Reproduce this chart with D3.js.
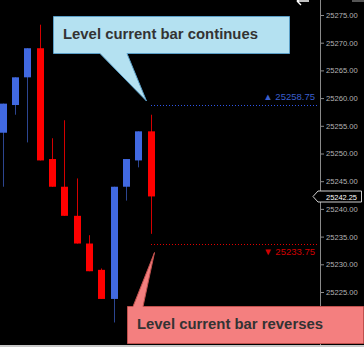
<!DOCTYPE html>
<html>
<head>
<meta charset="utf-8">
<script src="https://cdn.jsdelivr.net/npm/d3@7"></script>
<style>
  html, body { margin: 0; padding: 0; background: #000; }
  svg { display: block; }
</style>
</head>
<body>
<div id="chart"></div>
<script>
// candle data (oldest -> newest)
let opens  = [25253.75, 25258.75, 25263.75, 25269.0, 25249.0, 25244.0, 25238.75, 25233.75, 25229.0, 25223.75, 25244.0, 25248.75, 25254.0]
let highs  = [25259.0, 25263.75, 25269.0, 25273.25, 25252.75, 25256.0, 25245.5, 25235.25, 25229.25, 25244.0, 25249.0, 25254.0, 25257.0]
let lows   = [25244.0, 25257.0, 25252.0, 25248.75, 25244.0, 25238.75, 25233.75, 25228.75, 25223.75, 25219.5, 25241.5, 25247.5, 25235.5]
let closes = [25259.0, 25263.75, 25269.0, 25248.75, 25244.0, 25238.75, 25233.75, 25228.75, 25223.75, 25244.0, 25249.0, 25254.0, 25242.25]

let yTicks = [25225, 25230, 25235, 25240, 25245, 25250, 25255, 25260, 25265, 25270, 25275]
let levelUp = 25258.75
let levelDown = 25233.75
let lastPrice = 25242.25
let labelUp = 'Level current bar continues'
let labelDown = 'Level current bar reverses'

let width = 364, height = 347
let svg = d3.select('#chart').append('svg')
    .attr('width', width)
    .attr('height', height)

svg.append('rect').attr('width', width).attr('height', height).attr('fill', '#000')

// scales
let y = d3.scaleLinear().domain([25225, 25275]).range([292, 15])
let x = d3.scaleLinear().domain([0, opens.length - 1]).range([2.5, 150.5])
let axisX = 320
let bodyW = 7
let font = 'Liberation Sans, Arial, sans-serif'

// candles
let candles = svg.append('g').selectAll('g')
    .data(opens.map((o, i) => ({i: i, o: o, h: highs[i], l: lows[i], c: closes[i]})))
    .enter().append('g')

candles.append('line')
    .attr('x1', d => Math.round(x(d.i)) + 0.5)
    .attr('x2', d => Math.round(x(d.i)) + 0.5)
    .attr('y1', d => y(d.h))
    .attr('y2', d => y(d.l))
    .attr('stroke', d => d.c >= d.o ? '#2c4590' : '#d40000')
    .attr('stroke-width', 1)

candles.append('rect')
    .attr('x', d => Math.round(x(d.i)) - 3)
    .attr('width', bodyW)
    .attr('y', d => y(Math.max(d.o, d.c)))
    .attr('height', d => Math.max(1, y(Math.min(d.o, d.c)) - y(Math.max(d.o, d.c))))
    .attr('fill', d => d.c >= d.o ? '#4169e1' : '#ff0000')

// level lines (dotted)
let lineStart = Math.round(x(opens.length - 1))
svg.append('line')
    .attr('x1', lineStart).attr('x2', axisX - 2)
    .attr('y1', Math.round(y(levelUp)) + 0.5).attr('y2', Math.round(y(levelUp)) + 0.5)
    .attr('stroke', '#2f55e8').attr('stroke-dasharray', '1,2')
    .style('shape-rendering', 'crispEdges')
svg.append('line')
    .attr('x1', lineStart).attr('x2', axisX - 2)
    .attr('y1', Math.round(y(levelDown)) + 0.5).attr('y2', Math.round(y(levelDown)) + 0.5)
    .attr('stroke', '#e00000').attr('stroke-dasharray', '1,2')
    .style('shape-rendering', 'crispEdges')

svg.append('text')
    .attr('x', 315).attr('y', y(levelUp) - 5)
    .attr('text-anchor', 'end')
    .style('font-family', font)
    .style('font-size', '9.5px')
    .attr('fill', '#3a5fcd')
    .text('\u25B2 ' + d3.format('.2f')(levelUp))
svg.append('text')
    .attr('x', 315).attr('y', y(levelDown) + 11)
    .attr('text-anchor', 'end')
    .style('font-family', font)
    .style('font-size', '9.5px')
    .attr('fill', '#d00000')
    .text('\u25BC ' + d3.format('.2f')(levelDown))

// price axis
let axis = d3.axisRight(y).tickValues(yTicks).tickSize(4).tickFormat(d3.format('.2f'))
let axisG = svg.append('g').attr('transform', `translate(${axisX},0)`).call(axis)
axisG.select('.domain').remove()
axisG.selectAll('line').attr('stroke', '#8a8a8a')
axisG.selectAll('text')
    .attr('x', 6)
    .attr('fill', '#b4b4b4')
    .style('font-family', font)
    .style('font-size', '7.6px')
svg.append('line')
    .attr('x1', axisX + 0.5).attr('x2', axisX + 0.5)
    .attr('y1', 0).attr('y2', height)
    .attr('stroke', '#8a8a8a')

// last price tag
let py = Math.round(y(lastPrice)) + 0.5
svg.append('path')
    .attr('d', `M${313},${py} L${318},${py - 5.5} L${361.5},${py - 5.5} L${361.5},${py + 5.5} L${318},${py + 5.5} Z`)
    .attr('fill', '#000')
    .attr('stroke', '#d0d0d0')
svg.append('text')
    .attr('x', 326).attr('y', py + 3)
    .attr('fill', '#fff')
    .style('font-family', font)
    .style('font-size', '7.6px')
    .attr('textLength', 31).attr('lengthAdjust', 'spacingAndGlyphs')
    .text(d3.format('.2f')(lastPrice))

// top-right widgets: scroll arrow (cut by the top edge) and a small button
svg.append('path')
    .attr('d', 'M297,1 L309,1 M297,1 L301,-3 M297,1 L301,5')
    .attr('stroke', '#fff').attr('stroke-width', 1.4).attr('fill', 'none')
svg.append('rect').attr('x', 352).attr('y', 0).attr('width', 12).attr('height', 2).attr('fill', '#555')

// bottom border
svg.append('rect').attr('x', 0).attr('y', 345).attr('width', width).attr('height', 2).attr('fill', '#c8c8c8')

// callouts
let upTipX = x(opens.length - 1) - 4
svg.append('path')
    .attr('d', `M53.5,16.5 L289.5,16.5 L289.5,53.5 L127,53.5 L${upTipX},${y(levelUp) - 4} L100,53.5 L53.5,53.5 Z`)
    .attr('fill', '#b4e1f1')
    .attr('stroke', '#5a9fc8')
svg.append('text')
    .attr('x', 63).attr('y', 39)
    .attr('fill', '#333')
    .style('font-family', font)
    .style('font-size', '15px')
    .style('font-weight', 'bold')
    .attr('textLength', 195).attr('lengthAdjust', 'spacingAndGlyphs')
    .text(labelUp)

let downTipX = x(opens.length - 1) + 4
svg.append('path')
    .attr('d', `M127.5,306.5 L133,306.5 L${downTipX},${y(levelDown) + 9} L143,306.5 L363.5,306.5 L363.5,343.5 L127.5,343.5 Z`)
    .attr('fill', '#f47f7f')
    .attr('stroke', '#c0504d')
svg.append('text')
    .attr('x', 137).attr('y', 329)
    .attr('fill', '#333')
    .style('font-family', font)
    .style('font-size', '15px')
    .style('font-weight', 'bold')
    .attr('textLength', 186).attr('lengthAdjust', 'spacingAndGlyphs')
    .text(labelDown)
</script>
</body>
</html>
